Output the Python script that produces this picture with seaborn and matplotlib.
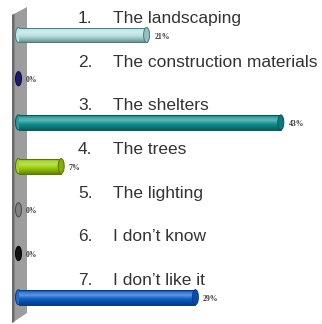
import numpy as np
import pandas as pd
import matplotlib
matplotlib.use("Agg")
import matplotlib.pyplot as plt
import matplotlib.transforms as mtransforms
from matplotlib.patches import Ellipse, Polygon
from matplotlib.colors import to_rgb
import seaborn as sns

# ---- data ----
numbers = ["1.", "2.", "3.", "4.", "5.", "6.", "7."]
answers = ["The landscaping", "The construction materials", "The shelters",
           "The trees", "The lighting", "I don\u2019t know", "I don\u2019t like it"]
values = [21, 0, 43, 7, 0, 0, 29]
value_labels = ["21%", "0%", "43%", "7%", "0%", "0%", "29%"]
colors = ["#B5E1E1", "#1C1C6E", "#0E9090", "#9ACD06", "#7F7F7F", "#111111", "#0A5BC9"]
edge_colors = ["#3F7F80", "#0A0A40", "#055858", "#557300", "#4A4A4A", "#000000", "#063A85"]

sns.set_style("white")
plt.rcParams['font.family'] = ['Liberation Sans', 'DejaVu Sans']

W, H = 322, 324
fig = plt.figure(figsize=(W / 100, H / 100), dpi=100)
ax = fig.add_axes([0, 0, 1, 1])

pos = list(range(len(values)))
df = pd.DataFrame({"value": values, "pos": pos, "answer": answers})

bar_h = 0.343
sns.barplot(data=df, x="value", y="pos", hue="pos", orient="h", palette=colors,
            width=bar_h, legend=False, ax=ax, native_scale=True,
            linewidth=0, zorder=3)

px_per = 6.1
x0px = 18.5
ax.set_xlim(-x0px / px_per, (W - x0px) / px_per)
yc0, ydy = 35.0, 43.7
ax.set_ylim((H - yc0) / ydy, -yc0 / ydy)
ax.axis("off")

# gray wall (decoration), in axes fraction (axes fills the figure)
def f(px, py):
    return (px / W, 1 - py / H)
wall = Polygon([f(12, 15), f(27, 7), f(27, 313), f(12, 323)], closed=True,
               transform=ax.transAxes, facecolor="#9D9D9D", edgecolor="none", zorder=1)
wall_edge = Polygon([f(12, 15), f(14.5, 13.7), f(14.5, 321.7), f(12, 323)], closed=True,
                    transform=ax.transAxes, facecolor="#6C6C6C", edgecolor="none", zorder=1.1)
ax.add_patch(wall)
ax.add_patch(wall_edge)

cap_w = 6.0 / px_per

def shade(c, k):
    r = np.array(to_rgb(c))
    if k >= 0:
        return r + (1 - r) * k
    return r * (1 + k)

# cylinder shading on bars
grad_n = 64
t = np.linspace(0, 1, grad_n)
prof = np.interp(t, [0, 0.12, 0.35, 0.6, 1.0], [-0.25, 0.15, 0.35, 0.0, -0.35])
bar_patches = [p for p in ax.patches if p not in (wall, wall_edge)]
for patch, c, ec, v in zip(bar_patches, colors, edge_colors, values):
    x, y = patch.get_x(), patch.get_y()
    w, h = patch.get_width(), patch.get_height()
    yc = y + h / 2
    if v > 0:
        img = np.array([shade(c, k) for k in prof])[:, None, :]
        im = ax.imshow(img, extent=(x, x + w, y + h, y), aspect="auto",
                       zorder=3.1, interpolation="bilinear")
        im.set_clip_path(patch)
        ax.plot([x, x + w], [y, y], color=ec, lw=0.7, zorder=3.2)
        ax.plot([x, x + w], [y + h, y + h], color=ec, lw=0.7, zorder=3.2)
        ax.add_patch(Ellipse((x, yc), cap_w, h, facecolor=shade(c, 0.1),
                             edgecolor=ec, lw=0.7, zorder=2.9))
        ax.add_patch(Ellipse((x + w, yc), cap_w, h, facecolor=shade(c, -0.15),
                             edgecolor=ec, lw=0.7, zorder=3.3))
    else:
        ax.add_patch(Ellipse((x + w, yc), cap_w, h * 0.95, facecolor=c,
                             edgecolor=ec, lw=0.7, zorder=3.3))

ax.set_xlim(-x0px / px_per, (W - x0px) / px_per)
ax.set_ylim((H - yc0) / ydy, -yc0 / ydy)

# value labels
for i, (v, lab) in enumerate(zip(values, value_labels)):
    ax.annotate(lab, xy=(v, i), xytext=(5.5, -1.2), textcoords="offset points",
                ha="left", va="center", fontsize=5.6, fontweight="bold",
                family=["Liberation Serif", "DejaVu Serif"], color="#3A3A3A", zorder=5)

# category labels
blend = mtransforms.blended_transform_factory(ax.transAxes, ax.transData)
for i, (n, a) in enumerate(zip(numbers, answers)):
    yy = i - 0.38
    ax.text(78 / W, yy, n, transform=blend, ha="left", va="center",
            fontsize=12.5, color="#333333", zorder=5)
    ax.text(113 / W, yy, a, transform=blend, ha="left", va="center",
            fontsize=12.5, color="#333333", zorder=5)

fig.savefig("out.png", dpi=100)
